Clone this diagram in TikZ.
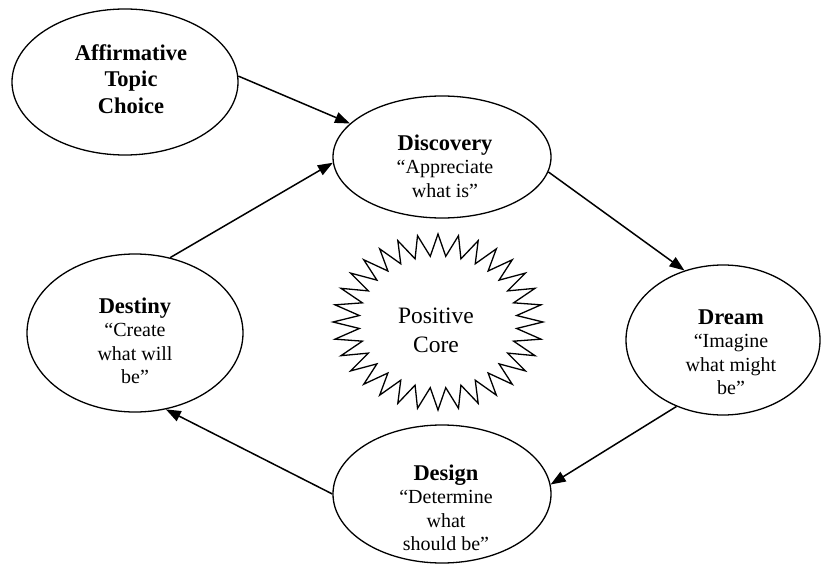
\documentclass[tikz,border=0pt]{standalone}
\usepackage{fontspec}
\setmainfont{Liberation Serif}
\usetikzlibrary{
  shapes.geometric,
  arrows.meta
}
\tikzset{
  phase/.style={ellipse,draw,line width=1.3pt,inner sep=0pt},
  phase text/.style={align=center,font=\fontsize{20}{23.5}\selectfont},
  cycle arrow/.style={-{Triangle[length=15pt,width=11pt]},line width=1.5pt},
}
\newcommand\phasename[1]{{\fontsize{22.5}{26.5}\selectfont\bfseries #1}}

\begin{document}
\begin{tikzpicture}[x=1pt,y=-1pt]
\useasboundingbox (0,0) rectangle (821,564);

\node[phase,minimum width=226pt,minimum height=146pt] (topic) at (125,82) {};
\node[phase,minimum width=218pt,minimum height=122pt] (discovery) at (442,157) {};
\node[phase,minimum width=194pt,minimum height=150pt] (dream) at (723,340) {};
\node[phase,minimum width=218pt,minimum height=138pt] (design) at (442,494) {};
\node[phase,minimum width=216pt,minimum height=158pt] (destiny) at (135,333) {};

\node[phase text,font=\fontsize{22.5}{26.5}\selectfont\bfseries] (topic-text) at (131,79) {Affirmative\\Topic\\Choice};
\node[phase text] (discovery-text) at (445,166) {\phasename{Discovery}\\“Appreciate\\what is”};
\node[phase text] (dream-text) at (731,352) {\phasename{Dream}\\“Imagine\\what might\\be”};
\node[phase text] (design-text) at (446,508) {\phasename{Design}\\“Determine\\what\\should be”};
\node[phase text] (destiny-text) at (135,341) {\phasename{Destiny}\\“Create\\what will\\be”};

% positive core star
\draw[line width=1.3pt,shift={(438,322)}] (90:105 and 88)
  \foreach \k in {0,...,31} { -- ({95.625+\k*11.25}:79 and 66) -- ({101.25+\k*11.25}:105 and 88) } -- cycle;
\node[align=center,font=\fontsize{23.5}{29}\selectfont] (core) at (436,330) {Positive\\Core};

\draw[cycle arrow] (topic.3) -- (discovery.160);
\draw[cycle arrow] (discovery.-8) -- (dream.119);
\draw[cycle arrow] (dream.235) -- (design.5);
\draw[cycle arrow] (design.west) -- (destiny.-68);
\draw[cycle arrow] (destiny.65) -- (discovery.183);
\end{tikzpicture}
\end{document}
